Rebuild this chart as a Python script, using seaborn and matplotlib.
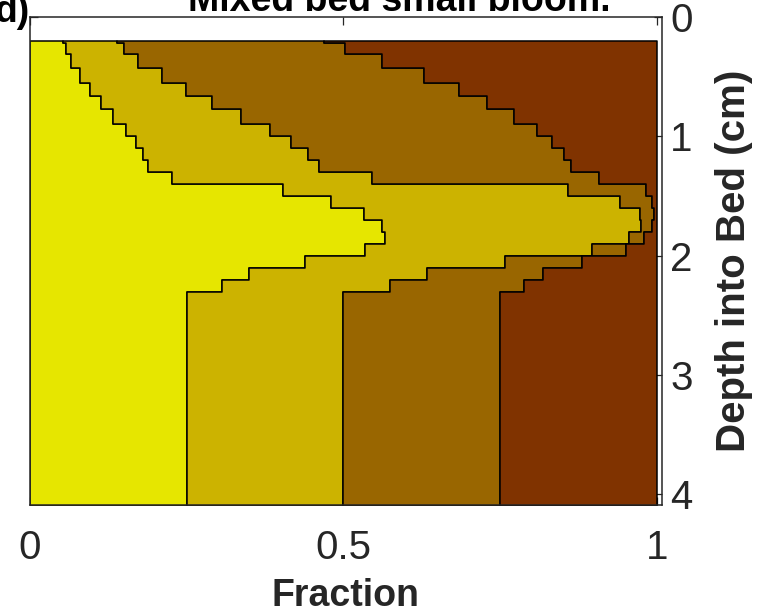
import numpy as np
import matplotlib
matplotlib.use("Agg")
import matplotlib.pyplot as plt
import seaborn as sns

# Layer boundaries (depth into bed, cm)
depth_edges = [0.20, 0.22, 0.31, 0.43, 0.55, 0.66, 0.77, 0.90, 1.0, 1.1, 1.2,
               1.3, 1.4, 1.5, 1.6, 1.7, 1.8, 1.9, 2.0, 2.1, 2.2, 2.3, 4.1]

# Fraction of each size class within each layer
class1 = [0.053, 0.057, 0.065, 0.080, 0.096, 0.114, 0.133, 0.153, 0.169, 0.180, 0.188,
          0.227, 0.404, 0.480, 0.532, 0.561, 0.566, 0.534, 0.438, 0.349, 0.307, 0.25]
class2 = [0.086, 0.093, 0.107, 0.130, 0.153, 0.176, 0.204, 0.229, 0.248, 0.263, 0.273,
          0.319, 0.454, 0.461, 0.441, 0.413, 0.390, 0.363, 0.319, 0.284, 0.267, 0.25]
class3 = [0.330, 0.353, 0.389, 0.419, 0.435, 0.439, 0.435, 0.426, 0.416, 0.409, 0.402,
          0.362, 0.125, 0.051, 0.022, 0.018, 0.024, 0.054, 0.123, 0.185, 0.214, 0.25]
class4 = [0.531, 0.497, 0.439, 0.371, 0.316, 0.271, 0.228, 0.192, 0.167, 0.148, 0.137,
          0.092, 0.017, 0.008, 0.005, 0.008, 0.020, 0.049, 0.120, 0.182, 0.212, 0.25]

class_colors = ["#E6E600", "#CCB300", "#996600", "#803300"]

x_ticks = [0, 0.5, 1]
x_tick_labels = ["0", "0.5", "1"]
y_ticks = [0, 1, 2, 3, 4]
y_tick_labels = ["0", "1", "2", "3", "4"]

title = "Mixed bed small bloom."
panel_label = "d)"
x_label = "Fraction"
y_label = "Depth into Bed (cm)"

sns.set_theme(style="white")
plt.rcParams["font.family"] = ["Liberation Sans", "DejaVu Sans"]

fig = plt.figure(figsize=(7.59, 6.13), dpi=100)
ax = fig.add_axes([30 / 759, 1 - 505 / 613, 632 / 759, 488 / 613])

y = np.array(depth_edges)
left = np.zeros(len(y))
for vals, col in zip([class1, class2, class3, class4], class_colors):
    v = np.append(np.array(vals), vals[-1])
    right = left + v
    ax.fill_betweenx(y, left, right, step="post", facecolor=col,
                     edgecolor="black", linewidth=1.1, zorder=2)
    left = right

ax.set_xlim(0, 1.008)
ax.set_ylim(4.088, 0)

ax.set_xticks(x_ticks)
ax.set_xticklabels(x_tick_labels)
ax.set_yticks(y_ticks)
ax.set_yticklabels(y_tick_labels)

ax.yaxis.tick_right()
ax.yaxis.set_label_position("right")
ax.tick_params(axis="both", which="both", direction="in", length=6, width=0.9,
               color="#262626", labelcolor="#262626", labelsize=29,
               top=True, bottom=True, left=True, right=True)
ax.tick_params(axis="x", pad=17)
ax.tick_params(axis="y", pad=6)

for sp in ax.spines.values():
    sp.set_color("#262626")
    sp.set_linewidth(1.1)

ax.set_xlabel(x_label, fontsize=27, fontweight="bold", color="#262626", labelpad=8)
ax.set_ylabel(y_label, fontsize=29, fontweight="bold", color="#262626", labelpad=16)

fig.text(188 / 759, 1 - 11 / 613, title, fontsize=27, fontweight="bold",
         ha="left", va="baseline", color="black")
fig.text(30 / 759, 1 - 22 / 613, panel_label, fontsize=27, fontweight="bold",
         ha="right", va="baseline", color="black")

fig.savefig("out.png", dpi=100)
